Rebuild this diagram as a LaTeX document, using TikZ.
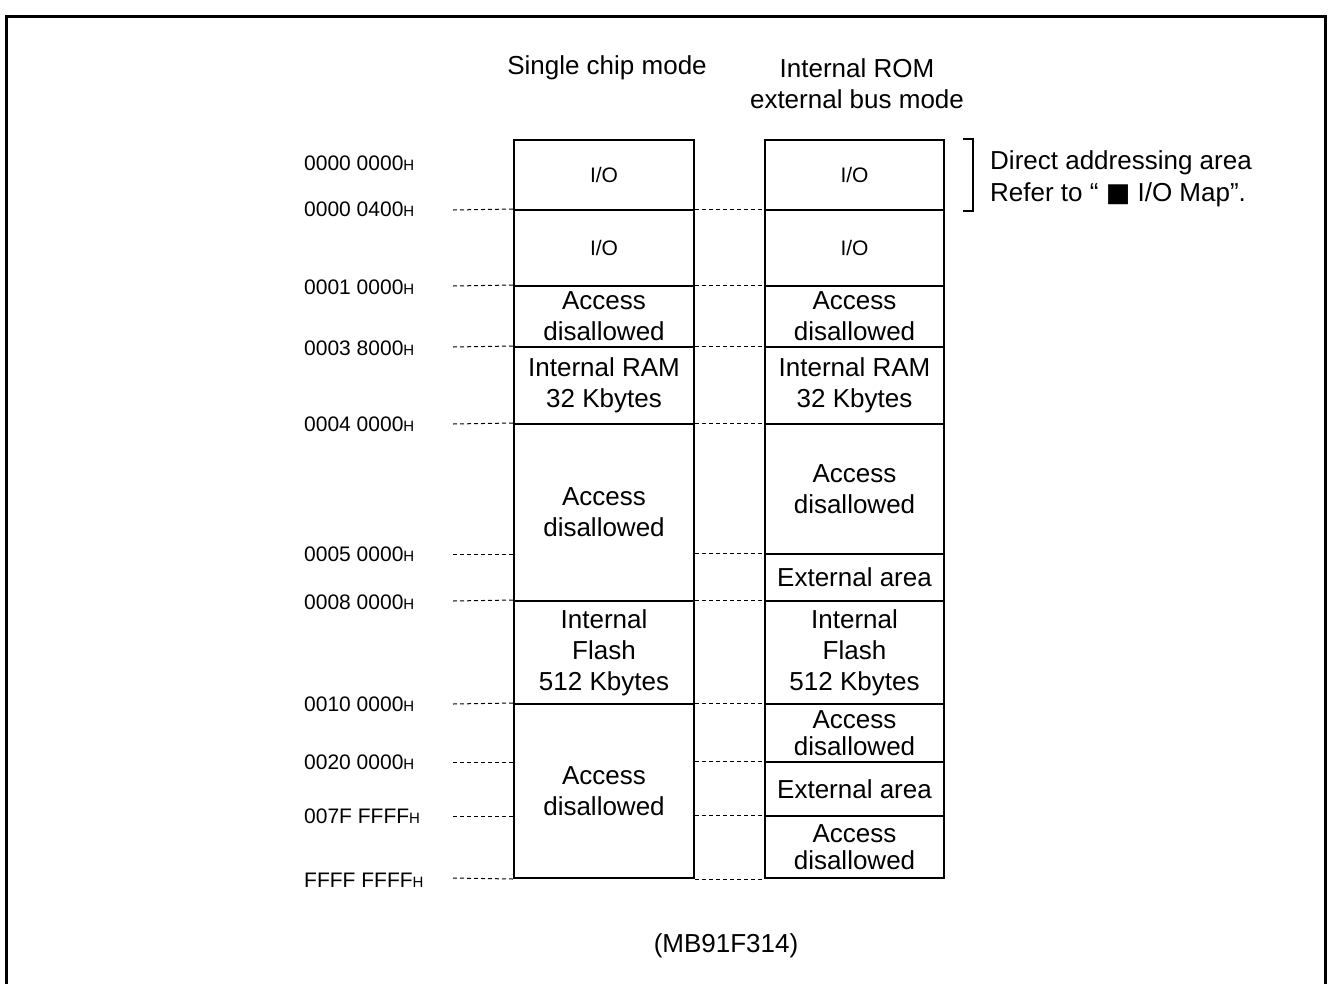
\documentclass[tikz,border=0pt]{standalone}
\usepackage{fontspec}
\setmainfont{Liberation Sans}
\newfontfamily\symfont{DejaVu Sans}
\usetikzlibrary{calc}

\newcommand{\hx}{{\fontsize{15}{15}\selectfont H}}

\begin{document}
\begin{tikzpicture}[x=1pt, y=-1pt]
            \tikzset{cell/.style = {shape=rectangle, draw, line width=2pt, inner sep=0pt, align=center,
                font=\fontsize{26}{31}\selectfont}}
            \tikzset{small/.style = {font=\fontsize{21}{25}\selectfont}}
            \tikzset{addr/.style = {anchor=west, inner sep=0pt, font=\fontsize{21}{25}\selectfont}}
            \tikzset{guide/.style = {line width=1pt, dash pattern=on 4pt off 3pt}}
            \tikzset{label/.style = {inner sep=0pt, align=center, font=\fontsize{26}{31}\selectfont}}
            \useasboundingbox (0,0) rectangle (1330,983);
            \draw[line width=3pt] (6,995) -- (6,16) -- (1325,16) -- (1325,995);
            % headings
            \node[label] (h1) at (607,68) {Single chip mode};
            \node[label] (h2) at (857,84) {Internal ROM\\external bus mode};
            % single chip mode
            \node[cell, minimum width=180pt, minimum height=70pt, small] (c1a) at (604,175) {I/O};
            \node[cell, minimum width=180pt, minimum height=76pt, small] (c1b) at (604,248) {I/O};
            \node[cell, minimum width=180pt, minimum height=61pt] (c1c) at (604,316.5) {Access\\disallowed};
            \node[cell, minimum width=180pt, minimum height=77pt] (c1d) at (604,385.5) {Internal RAM\\32 Kbytes};
            \node[cell, minimum width=180pt, minimum height=177pt] (c1e) at (604,512.5) {Access\\disallowed};
            \node[cell, minimum width=180pt, minimum height=103pt] (c1f) at (604,652.5) {Internal\\Flash\\512 Kbytes};
            \node[cell, minimum width=180pt, minimum height=174pt] (c1g) at (604,791) {Access\\disallowed};
            % internal ROM external bus mode
            \node[cell, minimum width=179pt, minimum height=70pt, small] (c2a) at (854.5,175) {I/O};
            \node[cell, minimum width=179pt, minimum height=76pt, small] (c2b) at (854.5,248) {I/O};
            \node[cell, minimum width=179pt, minimum height=61pt] (c2c) at (854.5,316.5) {Access\\disallowed};
            \node[cell, minimum width=179pt, minimum height=77pt] (c2d) at (854.5,385.5) {Internal RAM\\32 Kbytes};
            \node[cell, minimum width=179pt, minimum height=130pt] (c2e) at (854.5,489) {Access\\disallowed};
            \node[cell, minimum width=179pt, minimum height=47pt] (c2f) at (854.5,577.5) {External area};
            \node[cell, minimum width=179pt, minimum height=103pt] (c2g) at (854.5,652.5) {Internal\\Flash\\512 Kbytes};
            \node[cell, minimum width=179pt, minimum height=58pt, font=\fontsize{26}{27}\selectfont] (c2h) at (854.5,733) {Access\\disallowed};
            \node[cell, minimum width=179pt, minimum height=54pt] (c2i) at (854.5,789) {External area};
            \node[cell, minimum width=179pt, minimum height=62pt, font=\fontsize{26}{27}\selectfont] (c2j) at (854.5,847) {Access\\disallowed};
            % addresses
            \node[addr] (a1) at (304,163) {0000 0000\hx};
            \node[addr] (a2) at (304,209) {0000 0400\hx};
            \node[addr] (a3) at (304,287) {0001 0000\hx};
            \node[addr] (a4) at (304,348) {0003 8000\hx};
            \node[addr] (a5) at (304,424) {0004 0000\hx};
            \node[addr] (a6) at (304,554) {0005 0000\hx};
            \node[addr] (a7) at (304,602) {0008 0000\hx};
            \node[addr] (a8) at (304,704) {0010 0000\hx};
            \node[addr] (a9) at (304,762) {0020 0000\hx};
            \node[addr] (a10) at (304,816) {007F FFFF\hx};
            \node[addr] (a11) at (304,880) {FFFF FFFF\hx};
            \coordinate (l2) at (453,210);
            \coordinate (l3) at (453,286);
            \coordinate (l4) at (453,347);
            \coordinate (l5) at (453,424);
            \coordinate (l6) at (453,554);
            \coordinate (l7) at (453,601);
            \coordinate (l8) at (453,704);
            \coordinate (l9) at (453,762);
            \coordinate (l10) at (453,816);
            \coordinate (l11) at (453,878);
            \draw[guide] (l2) -- (c1b.north west);
            \draw[guide] (l3) -- (c1c.north west);
            \draw[guide] (l4) -- (c1d.north west);
            \draw[guide] (l5) -- (c1e.north west);
            \draw[guide] (l6) -- (l6 -| c1e.west);
            \draw[guide] (l7) -- (c1f.north west);
            \draw[guide] (l8) -- (c1g.north west);
            \draw[guide] (l9) -- (l9 -| c1g.west);
            \draw[guide] (l10) -- (l10 -| c1g.west);
            \draw[guide] (l11) -- (c1g.south west);
            \draw[guide] (c1b.north east) -- (c2b.north west);
            \draw[guide] (c1c.north east) -- (c2c.north west);
            \draw[guide] (c1d.north east) -- (c2d.north west);
            \draw[guide] (c1e.north east) -- (c2e.north west);
            \draw[guide] (c2f.north west -| c1e.east) -- (c2f.north west);
            \draw[guide] (c1f.north east) -- (c2g.north west);
            \draw[guide] (c1g.north east) -- (c2h.north west);
            \draw[guide] (c2i.north west -| c1g.east) -- (c2i.north west);
            \draw[guide] (c2j.north west -| c1g.east) -- (c2j.north west);
            \draw[guide] (c1g.south east) -- (c2j.south west);
            % direct addressing bracket
            \draw[line width=1.2pt] ([xshift=18pt]c2a.north east) -- ++(10,0) |- ([xshift=18pt]c2a.south east);
            \node[label, anchor=west, align=left, font=\fontsize{26}{32}\selectfont] (note) at (990,179)
                {Direct addressing area\\Refer to “ {\symfont ■} I/O Map”.};
            \node[label] (tag) at (726,946) {(MB91F314)};
          \end{tikzpicture}
\end{document}
